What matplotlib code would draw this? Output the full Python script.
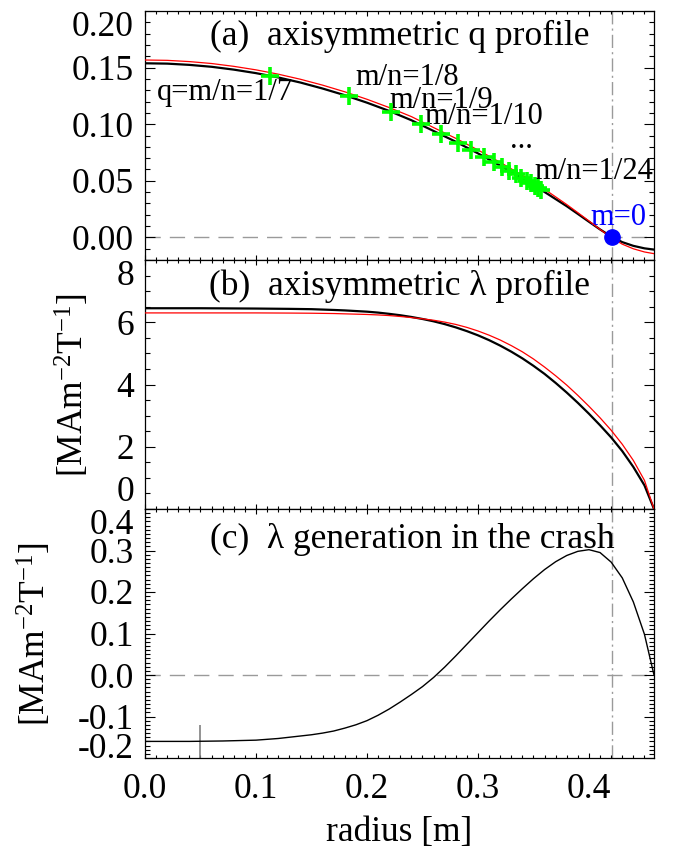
import numpy as np
import matplotlib
matplotlib.use("Agg")
import matplotlib.pyplot as plt
from matplotlib.ticker import MultipleLocator, FormatStrFormatter

plt.rcParams['font.family'] = ['Liberation Serif', 'DejaVu Serif']
plt.rcParams['mathtext.fontset'] = 'custom'
plt.rcParams['mathtext.rm'] = 'Liberation Serif'
plt.rcParams['mathtext.it'] = 'Liberation Serif:italic'
plt.rcParams['axes.unicode_minus'] = False

# ---------------- data ----------------
# (a) safety factor q profile
r_q = [0.00, 0.02, 0.04, 0.06, 0.08, 0.10, 0.12, 0.14, 0.16, 0.18, 0.20, 0.22,
       0.24, 0.26, 0.28, 0.30, 0.32, 0.34, 0.36, 0.38, 0.39, 0.40, 0.41, 0.42,
       0.43, 0.44, 0.45, 0.4586]
q_black = [0.1538, 0.1535, 0.1524, 0.1507, 0.1482, 0.1451, 0.1413, 0.1368,
           0.1315, 0.1256, 0.1190, 0.1117, 0.1035, 0.0940, 0.0845, 0.0742,
           0.0634, 0.0520, 0.0401, 0.0275, 0.0207, 0.0138, 0.0070, 0.0008,
           -0.0042, -0.0075, -0.0097, -0.0108]
q_red = [0.1567, 0.1564, 0.1553, 0.1536, 0.1511, 0.1480, 0.1442, 0.1397,
         0.1345, 0.1286, 0.1220, 0.1147, 0.1067, 0.0970, 0.0875, 0.0772,
         0.0663, 0.0548, 0.0425, 0.0290, 0.0218, 0.0145, 0.0070, 0.0000,
         -0.0060, -0.0101, -0.0129, -0.0144]
# rational surfaces q = m/n = 1/7 ... 1/24
res_n = [7, 8, 9, 10, 11, 12, 13, 14, 15, 16, 17, 18, 19, 20, 21, 22, 23, 24]
res_r = [0.113, 0.184, 0.222, 0.249, 0.267, 0.282, 0.294, 0.305, 0.314,
         0.322, 0.328, 0.334, 0.339, 0.344, 0.348, 0.351, 0.354, 0.357]
res_q = [1.0 / n for n in res_n]
# m=0 surface
r_m0 = 0.4204
q_m0 = 0.0

# (b) lambda profile
r_lam = [0.00, 0.05, 0.10, 0.13, 0.15, 0.17, 0.18, 0.19, 0.20, 0.21, 0.22,
         0.23, 0.24, 0.25, 0.26, 0.27, 0.28, 0.29, 0.30, 0.31, 0.32, 0.33,
         0.34, 0.35, 0.36, 0.37, 0.38, 0.39, 0.40, 0.41, 0.42, 0.43, 0.44,
         0.45, 0.4586]
lam_black = [6.45, 6.45, 6.44, 6.43, 6.42, 6.395, 6.38, 6.36, 6.34, 6.31, 6.27,
             6.225, 6.17, 6.105, 6.03, 5.94, 5.835, 5.715, 5.58, 5.425, 5.25,
             5.055, 4.84, 4.60, 4.34, 4.05, 3.74, 3.41, 3.06, 2.69, 2.30, 1.86,
             1.35, 0.76, 0.0]
lam_red = [6.30, 6.30, 6.30, 6.295, 6.29, 6.28, 6.27, 6.26, 6.25, 6.235, 6.215,
           6.185, 6.15, 6.11, 6.065, 6.005, 5.93, 5.835, 5.72, 5.585, 5.43,
           5.25, 5.05, 4.82, 4.56, 4.28, 3.98, 3.65, 3.30, 2.93, 2.53, 2.08,
           1.56, 0.92, 0.0]

# (c) lambda generation in the crash
r_gen = [0.00, 0.04, 0.07, 0.10, 0.11, 0.12, 0.13, 0.14, 0.15, 0.16, 0.17,
         0.18, 0.19, 0.20, 0.21, 0.22, 0.23, 0.24, 0.25, 0.26, 0.27, 0.28,
         0.29, 0.30, 0.31, 0.32, 0.33, 0.34, 0.35, 0.36, 0.37, 0.38, 0.39,
         0.40, 0.41, 0.42, 0.43, 0.44, 0.45, 0.4586]
gen = [-0.160, -0.160, -0.159, -0.157, -0.155, -0.153, -0.150, -0.147, -0.144,
       -0.140, -0.135, -0.128, -0.120, -0.110, -0.097, -0.082, -0.065, -0.047,
       -0.028, -0.006, 0.019, 0.046, 0.074, 0.102, 0.130, 0.157, 0.183, 0.208,
       0.232, 0.254, 0.273, 0.288, 0.298, 0.302, 0.295, 0.272, 0.234, 0.176,
       0.098, 0.0]
mark_r = 0.05
mark_y = [-0.2, -0.121]

x_ticks = [0.0, 0.1, 0.2, 0.3, 0.4]
r_max = 0.4586

# ---------------- figure ----------------
W, H = 675, 852
fig = plt.figure(figsize=(W / 100, H / 100), dpi=100)
left, width = 145 / W, 509 / W
ax_a = fig.add_axes([left, 1 - 260 / H, width, 249 / H])
ax_b = fig.add_axes([left, 1 - 509 / H, width, 249 / H])
ax_c = fig.add_axes([left, 1 - 758 / H, width, 249 / H])

FS = 25.5
FS_ANN = 22
GRAY = '#9a9a9a'


def style(ax, ymaj, ymin_, fmt, ylim):
    ax.set_xlim(0, r_max)
    ax.set_ylim(*ylim)
    ax.set_xticks(x_ticks)
    ax.xaxis.set_minor_locator(MultipleLocator(0.01))
    ax.yaxis.set_major_locator(MultipleLocator(ymaj))
    ax.yaxis.set_minor_locator(MultipleLocator(ymin_))
    ax.yaxis.set_major_formatter(FormatStrFormatter(fmt))
    ax.xaxis.set_major_formatter(FormatStrFormatter('%.1f'))
    ax.tick_params(axis='both', which='both', direction='in', top=True,
                   right=True, width=0.8, color='black')
    ax.tick_params(axis='x', which='major', length=3.8, pad=11, labelsize=FS)
    ax.tick_params(axis='x', which='minor', length=2.0)
    ax.tick_params(axis='y', which='major', length=7.2, pad=8, labelsize=FS)
    ax.tick_params(axis='y', which='minor', length=3.6)
    for s in ax.spines.values():
        s.set_linewidth(0.9)
    ax.axvline(r_m0, color=GRAY, lw=1.0, dashes=(9.5, 3, 1.5, 3), zorder=1)


# (a)
style(ax_a, 0.05, 0.01, '%.2f', (-0.02, 0.20))
ax_a.tick_params(axis='x', labelbottom=False)
ax_a.axhline(0, color=GRAY, lw=1.0, dashes=(11, 6.5), zorder=1)
ax_a.plot(r_q, q_black, color='black', lw=1.6, zorder=3)
ax_a.plot(r_q, q_red, color='red', lw=0.9, zorder=4)
ax_a.plot(res_r, res_q, linestyle='none', marker='+', color='#00ff00',
          markersize=13, markeredgewidth=2.6, zorder=5)
ax_a.plot([r_m0], [q_m0], marker='o', color='blue', markersize=11, zorder=6)
ax_a.text(0.5, 0.862, '(a)  axisymmetric q profile', transform=ax_a.transAxes,
          ha='center', va='baseline', fontsize=FS)
ax_a.text(0.0104, 0.1214, 'q=m/n=1/7', fontsize=FS_ANN, ha='left', va='baseline')
ax_a.text(0.190, 0.1347, 'm/n=1/8', fontsize=FS_ANN, ha='left', va='baseline')
ax_a.text(0.2198, 0.1144, 'm/n=1/9', fontsize=FS_ANN, ha='left', va='baseline')
ax_a.text(0.2514, 0.0998, 'm/n=1/10', fontsize=FS_ANN, ha='left', va='baseline')
ax_a.text(0.3396, 0.0790, '...', fontsize=FS_ANN, ha='center', va='baseline')
ax_a.text(0.3505, 0.0513, 'm/n=1/24', fontsize=FS_ANN, ha='left', va='baseline')
ax_a.text(0.4009, 0.0112, 'm=0', fontsize=FS_ANN, ha='left', va='baseline',
          color='blue')

# (b)
style(ax_b, 2, 0.5, '%d', (0, 8))
ax_b.tick_params(axis='x', labelbottom=False)
ax_b.plot(r_lam, lam_black, color='black', lw=1.6, zorder=3)
ax_b.plot(r_lam, lam_red, color='red', lw=0.9, zorder=4)
ax_b.text(0.5, 0.86, '(b)  axisymmetric \u03bb profile', transform=ax_b.transAxes,
          ha='center', va='baseline', fontsize=FS)
ax_b.set_ylabel('[MAm$^{-2}$T$^{-1}$]', fontsize=FS, va='center', ha='center')
ax_b.yaxis.set_label_coords(-0.1415, 0.5)

# (c)
style(ax_c, 0.1, 0.01, '%.1f', (-0.2, 0.4))
ax_c.axhline(0, color=GRAY, lw=1.0, dashes=(11, 6.5), zorder=1)
ax_c.vlines(mark_r, mark_y[0], mark_y[1], color='#808080', lw=1.2, zorder=2)
ax_c.plot(r_gen, gen, color='black', lw=1.0, zorder=3)
ax_c.text(0.525, 0.845, '(c)  \u03bb generation in the crash',
          transform=ax_c.transAxes, ha='center', va='baseline', fontsize=FS)
ax_c.set_ylabel('[MAm$^{-2}$T$^{-1}$]', fontsize=FS, va='center', ha='center')
ax_c.yaxis.set_label_coords(-0.216, 0.5)
ax_c.set_xlabel('radius [m]', fontsize=FS, va='center')
ax_c.xaxis.set_label_coords(0.5, -0.301)

# keep edge tick labels inside the axis range (as in the original)
for ax, bottom_va in ((ax_a, 'baseline'), (ax_b, 'bottom'), (ax_c, 'baseline')):
    ticks = ax.yaxis.get_major_ticks()
    locs = ax.get_yticks()
    lo, hi = ax.get_ylim()
    for t, v in zip(ticks, locs):
        if abs(v - hi) < 1e-9:
            t.label1.set_va('top')
        elif abs(v - lo) < 1e-9:
            t.label1.set_va(bottom_va)

fig.savefig('out.png', dpi=100)
